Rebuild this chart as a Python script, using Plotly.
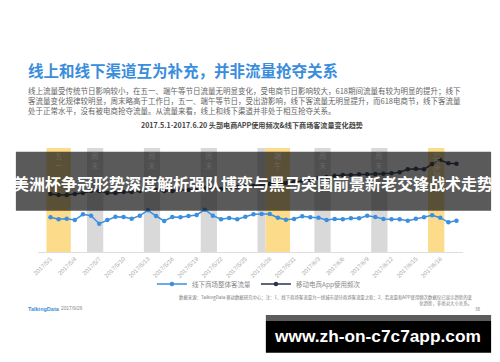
import plotly.graph_objects as go
import pandas as pd

# ---------------- data ----------------
dates = pd.date_range("2017-05-01", "2017-06-20", freq="D")

offline_traffic = [34.7, 32.7, 33.3, 32.0, 37.7, 36.3, 28.3, 32.0, 35.3, 35.0,
                   33.3, 36.3, 41.7, 36.0, 31.0, 35.0, 34.7, 36.0, 37.0, 42.3,
                   36.3, 32.7, 34.0, 32.7, 35.3, 37.7, 38.0, 38.0, 34.3, 32.3,
                   33.0, 35.7, 34.7, 34.3, 32.0, 33.0, 32.7, 33.7, 33.7, 36.3,
                   35.0, 33.0, 32.7, 32.7, 31.3, 33.3, 34.7, 36.7, 34.3, 29.7, 31.3]

app_usage = [58, 57, 57, 58, 59, 61, 61, 59, 59, 60,
             60, 61, 62, 62, 61, 61, 62, 62, 63, 64,
             64, 63, 64, 65, 66, 66, 67, 68, 68, 69,
             70, 71, 72, 74, 75, 76.3, 77, 77, 77.7, 77.7,
             78, 78.3, 78.7, 79.7, 82.7, 83.3, 82.7, 88, 92, 88.7, 88.3]

period_start = ["2017-05-01", "2017-05-06", "2017-05-13", "2017-05-20", "2017-05-27",
                "2017-05-28", "2017-06-03", "2017-06-10", "2017-06-17"]
period_end = ["2017-05-03", "2017-05-07", "2017-05-14", "2017-05-21", "2017-05-27",
              "2017-05-30", "2017-06-04", "2017-06-11", "2017-06-18"]
period_label = ["五一", "周末", "周末", "周末", "", "端午", "周末", "周末", "618电商节"]
period_kind = ["holiday", "weekend", "weekend", "weekend", "weekend",
               "holiday", "weekend", "weekend", "holiday"]

series_names = ["线下商场整体客流量", "移动电商App使用频次"]

title_text = "线上和线下渠道互为补充，并非流量抢夺关系"
para_lines = [
    "线上流量受传统节日影响较小，在五一、端午等节日流量无明显变化，受电商节日影响较大，618期间流量有较为明显的提升；线下",
    "客流量变化规律较明显，周末略高于工作日，五一、端午等节日，受出游影响，线下客流量无明显提升，而618电商节，线下客流量",
    "处于正常水平，没有被电商抢夺流量。从流量来看，线上和线下渠道并非处于相互抢夺关系。",
]
chart_title = "2017.5.1-2017.6.20 头部电商APP使用频次&线下商场客流量变化趋势"
banner_text = "美洲杯争冠形势深度解析强队博弈与黑马突围前景新老交锋战术走势"
watermark_text = "www.zh-on-c7c7app.com"
footer_lines = [
    "数据来源：TalkingData 移动数据研究中心；注：1、线下商场客流量为一线城市部分商场客流量之和；2、若流量和APP使用频次数据仅已显示趋势的变",
    "化趋势，非绝对大小关系。",
]

# ---------------- layout helpers ----------------
W, H = 500, 362
def py(p):
    return 1 - p / H
def px(p):
    return p / W

CJK = "Noto Sans CJK SC"
BLUE = "#3c8fdf"
DARK = "#27344a"
YELLOW = "#fcdc8b"
GREY = "#d9d9d9"

fig = go.Figure()
fig.add_trace(go.Scatter(x=dates, y=offline_traffic, name=series_names[0], mode="lines+markers",
                         line=dict(color=BLUE, width=1.5), marker=dict(size=4.5, color=BLUE)))
fig.add_trace(go.Scatter(x=dates, y=app_usage, name=series_names[1], mode="lines+markers",
                         line=dict(color=DARK, width=1.5), marker=dict(size=4.5, color=DARK)))

shapes = []
annotations = []
half = pd.Timedelta(hours=12)
for s, e, lab, kind in zip(period_start, period_end, period_label, period_kind):
    x0 = pd.Timestamp(s) - half
    x1 = pd.Timestamp(e) + half
    shapes.append(dict(type="rect", xref="x", yref="y", x0=x0, x1=x1, y0=0, y1=104,
                       fillcolor=YELLOW if kind == "holiday" else GREY, line=dict(width=0),
                       layer="below"))
    if lab:
        mid = x0 + (x1 - x0) / 2
        if len(lab) == 2:
            annotations.append(dict(x=mid, xref="x", y=py(161), yref="paper", text="<br>".join(lab),
                                    showarrow=False, font=dict(family=CJK, size=7.5, color="#666"),
                                    xanchor="center", yanchor="middle"))
        else:
            annotations.append(dict(x=mid, xref="x", y=py(150), yref="paper", text=lab, textangle=90,
                                    showarrow=False, font=dict(family=CJK, size=7, color="#666"),
                                    xanchor="center", yanchor="top"))

# banner over the chart
shapes.append(dict(type="rect", xref="paper", yref="paper", x0=px(10), x1=px(491),
                   y0=py(210.7), y1=py(151.7), fillcolor="rgba(20,20,20,0.70)",
                   line=dict(width=0), layer="above"))
# watermark box
shapes.append(dict(type="rect", xref="paper", yref="paper", x0=px(263), x1=px(491),
                   y0=py(321), y1=py(315), fillcolor="#5c5c5c", line=dict(width=0), layer="above"))
shapes.append(dict(type="rect", xref="paper", yref="paper", x0=px(263), x1=px(491),
                   y0=py(352.7), y1=py(321), fillcolor="#000000", line=dict(width=0), layer="above"))

# texts
annotations.append(dict(x=px(20), y=py(70), xref="paper", yref="paper", text="<b>" + title_text + "</b>",
                        showarrow=False, xanchor="left", yanchor="middle",
                        font=dict(family=CJK, size=15.5, color="#3a8ddc")))
annotations.append(dict(x=px(20), y=py(100.5), xref="paper", yref="paper", text="<br>".join(para_lines),
                        showarrow=False, xanchor="left", yanchor="middle", align="left",
                        font=dict(family=CJK, size=7.5, color="#666")))
annotations.append(dict(x=px(249), y=py(125), xref="paper", yref="paper", text="<b>" + chart_title + "</b>",
                        showarrow=False, xanchor="center", yanchor="middle",
                        font=dict(family=CJK, size=7.1, color="#444")))
annotations.append(dict(x=px(250), y=py(183), xref="paper", yref="paper", text="<b>" + banner_text + "</b>",
                        showarrow=False, xanchor="center", yanchor="middle",
                        font=dict(family=CJK, size=16, color="#ffffff")))
annotations.append(dict(x=px(376), y=py(336), xref="paper", yref="paper", text="<b>" + watermark_text + "</b>",
                        showarrow=False, xanchor="center", yanchor="middle",
                        font=dict(family="Liberation Sans", size=17.3, color="#ffffff")))
annotations.append(dict(x=px(475), y=py(300.5), xref="paper", yref="paper", text="<br>".join(footer_lines),
                        showarrow=False, xanchor="right", yanchor="middle", align="right",
                        font=dict(family=CJK, size=4.4, color="#777")))
annotations.append(dict(x=px(477), y=py(308.5), xref="paper", yref="paper", text="38",
                        showarrow=False, xanchor="center", yanchor="middle",
                        font=dict(family=CJK, size=4.5, color="#777")))
annotations.append(dict(x=px(20), y=py(308.5), xref="paper", yref="paper", text="<b>TalkingData</b>",
                        showarrow=False, xanchor="left", yanchor="middle",
                        font=dict(family="Liberation Sans", size=5.5, color="#3b8fd8")))
annotations.append(dict(x=px(54), y=py(308.5), xref="paper", yref="paper", text="2017/9/26",
                        showarrow=False, xanchor="left", yanchor="middle",
                        font=dict(family="Liberation Sans", size=4.8, color="#888")))

fig.update_layout(
    width=W, height=H, margin=dict(l=0, r=0, t=0, b=0),
    paper_bgcolor="white", plot_bgcolor="white",
    shapes=shapes, annotations=annotations,
    showlegend=True,
    legend=dict(orientation="h", x=px(256), xanchor="center", y=py(284), yanchor="middle",
                font=dict(family=CJK, size=6.5, color="#888"), bgcolor="rgba(0,0,0,0)",
                itemwidth=30, tracegroupgap=0),
    xaxis=dict(type="date", domain=[px(32.7), px(462.3)],
               range=[pd.Timestamp("2017-04-29 12:00"), pd.Timestamp("2017-06-20 18:30")],
               tick0="2017-05-01", dtick=3 * 86400000, tickformat="%Y/%-m/%-d",
               tickangle=-45, tickfont=dict(family="Liberation Sans", size=6, color="#aaa"),
               showline=True, linecolor="#dddddd", linewidth=1, showgrid=False, zeroline=False,
               ticks="", fixedrange=True),
    yaxis=dict(domain=[py(252), py(148)], range=[0, 104], visible=False, fixedrange=True),
)

fig.write_html("out.html", config={"displayModeBar": False},
               post_script="document.body.style.margin='0';document.body.style.overflow='hidden';")
